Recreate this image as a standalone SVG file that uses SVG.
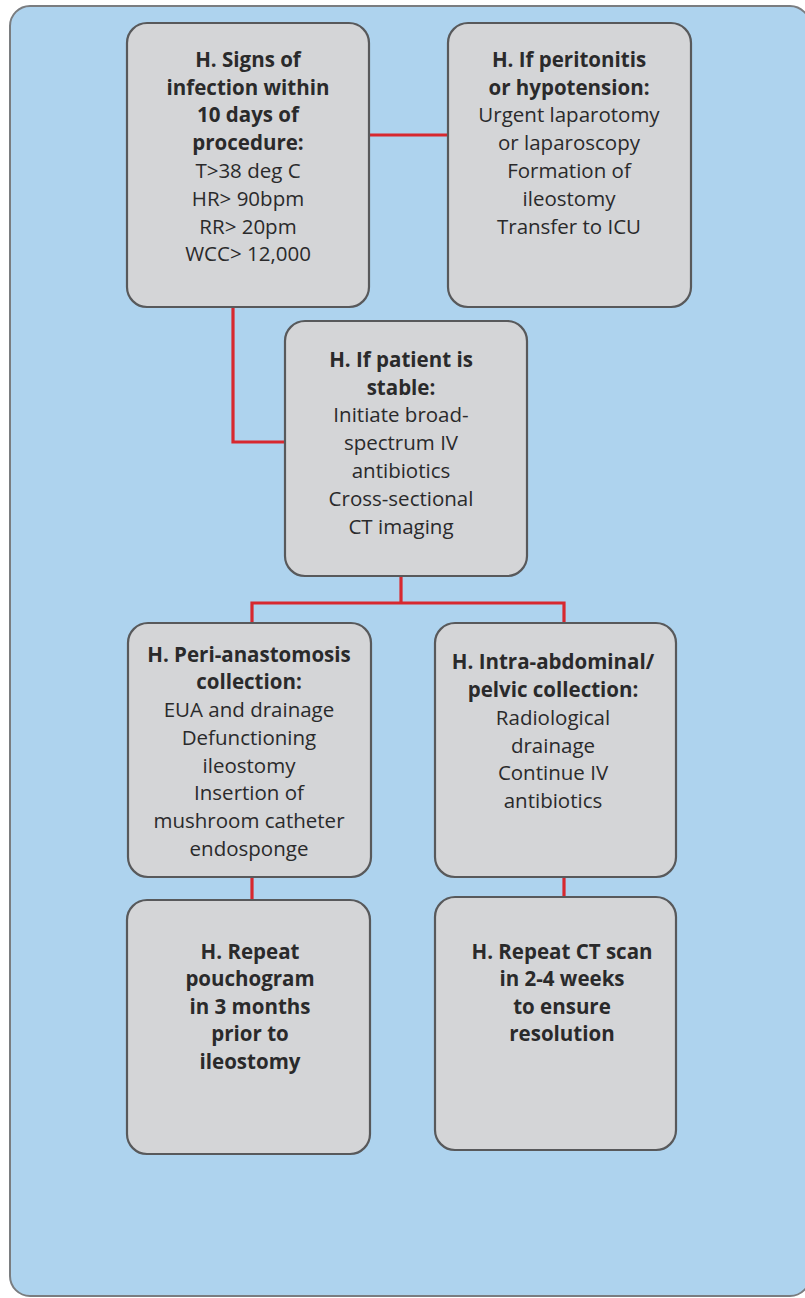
<svg xmlns="http://www.w3.org/2000/svg" width="805" height="1298" viewBox="0 0 805 1298">
  <style>
    .panel { fill: #aed3ee; stroke: #7a7d80; stroke-width: 2; }
    .box { fill: #d4d5d7; stroke: #58595b; stroke-width: 2.2; }
    .link { fill: none; stroke: #d7282f; stroke-width: 3.2; stroke-linecap: butt; stroke-linejoin: miter; }
    text { font-family: "Open Sans", "Noto Sans", "Liberation Sans", sans-serif; font-size: 20.5px; fill: #2a2a2b; text-anchor: middle; }
    .b { font-weight: bold; }
  </style>

  <!-- backdrop panel, running off the right edge -->
  <rect class="panel" x="10" y="6" width="800" height="1290" rx="20" ry="20"/>

  <!-- connectors -->
  <g id="connectors">
    <path class="link" d="M369 135 H448"/>
    <path class="link" d="M233 307 V442 H285"/>
    <path class="link" d="M401 576 V603 M252 623 V603 H564 V623"/>
    <path class="link" d="M252 877 V900"/>
    <path class="link" d="M564 877 V897"/>
  </g>

  <g id="signs-of-infection">
    <rect class="box" x="127" y="23" width="242" height="284" rx="20" ry="20"/>
    <text x="248" y="67" class="b">H. Signs of</text>
    <text x="248" y="95" class="b">infection within</text>
    <text x="248" y="122" class="b">10 days of</text>
    <text x="248" y="150" class="b">procedure:</text>
    <text x="248" y="178">T&gt;38 deg C</text>
    <text x="248" y="206">HR&gt; 90bpm</text>
    <text x="248" y="234">RR&gt; 20pm</text>
    <text x="248" y="261">WCC&gt; 12,000</text>
  </g>

  <g id="peritonitis">
    <rect class="box" x="448" y="23" width="243" height="284" rx="20" ry="20"/>
    <text x="569" y="67" class="b">H. If peritonitis</text>
    <text x="569" y="95" class="b">or hypotension:</text>
    <text x="569" y="122">Urgent laparotomy</text>
    <text x="569" y="150">or laparoscopy</text>
    <text x="569" y="178">Formation of</text>
    <text x="569" y="206">ileostomy</text>
    <text x="569" y="234">Transfer to ICU</text>
  </g>

  <g id="patient-stable">
    <rect class="box" x="285" y="321" width="242" height="255" rx="20" ry="20"/>
    <text x="401" y="367" class="b">H. If patient is</text>
    <text x="401" y="395" class="b">stable:</text>
    <text x="401" y="422">Initiate broad-</text>
    <text x="401" y="450">spectrum IV</text>
    <text x="401" y="478">antibiotics</text>
    <text x="401" y="506">Cross-sectional</text>
    <text x="401" y="534">CT imaging</text>
  </g>

  <g id="peri-anastomosis">
    <rect class="box" x="128" y="623" width="243" height="254" rx="20" ry="20"/>
    <text x="249" y="662" class="b">H. Peri-anastomosis</text>
    <text x="249" y="689" class="b">collection:</text>
    <text x="249" y="717">EUA and drainage</text>
    <text x="249" y="745">Defunctioning</text>
    <text x="249" y="773">ileostomy</text>
    <text x="249" y="800">Insertion of</text>
    <text x="249" y="828">mushroom catheter</text>
    <text x="249" y="856">endosponge</text>
  </g>

  <g id="intra-abdominal">
    <rect class="box" x="435" y="623" width="241" height="254" rx="20" ry="20"/>
    <text x="553" y="669" class="b">H. Intra-abdominal/</text>
    <text x="553" y="697" class="b">pelvic collection:</text>
    <text x="553" y="725">Radiological</text>
    <text x="553" y="753">drainage</text>
    <text x="553" y="780">Continue IV</text>
    <text x="553" y="808">antibiotics</text>
  </g>

  <g id="repeat-pouchogram">
    <rect class="box" x="127" y="900" width="243" height="254" rx="20" ry="20"/>
    <text x="250" y="959" class="b">H. Repeat</text>
    <text x="250" y="986" class="b">pouchogram</text>
    <text x="250" y="1014" class="b">in 3 months</text>
    <text x="250" y="1041" class="b">prior to</text>
    <text x="250" y="1069" class="b">ileostomy</text>
  </g>

  <g id="repeat-ct">
    <rect class="box" x="435" y="897" width="241" height="253" rx="20" ry="20"/>
    <text x="562" y="959" class="b">H. Repeat CT scan</text>
    <text x="562" y="986" class="b">in 2-4 weeks</text>
    <text x="562" y="1014" class="b">to ensure</text>
    <text x="562" y="1041" class="b">resolution</text>
  </g>
</svg>
